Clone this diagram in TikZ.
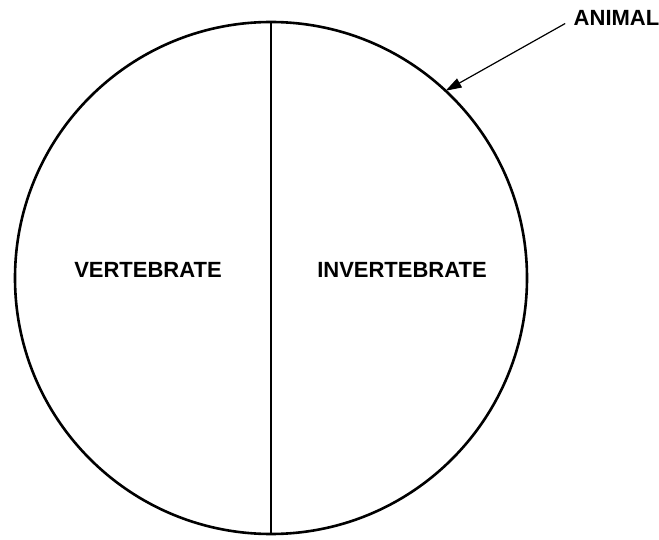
\documentclass[tikz,border=0pt]{standalone}
\usepackage{fontspec}
\setmainfont{Liberation Sans}
\usetikzlibrary{arrows.meta,positioning}

\begin{document}
\begin{tikzpicture}[
    x=1pt, y=-1pt,
    setcircle/.style={circle, draw, line width=2.6pt, inner sep=0pt, outer sep=0pt, minimum size=512pt},
    divider/.style={line width=2.8pt},
    setlabel/.style={font=\fontsize{22}{26}\selectfont\bfseries},
    pointer/.style={line width=1.2pt, -{Triangle[length=16pt,width=10pt]}}
]
\useasboundingbox (0,0) rectangle (659,540);

% Set of animals
\node[setcircle] (animal) at (271,278) {};
\draw[divider] (animal.north) -- (animal.south);

% Halves
\node[setlabel] (vertebrate) at (148,270) {VERTEBRATE};
\node[setlabel] (invertebrate) at (402,270) {INVERTEBRATE};

% Outer label
\node[setlabel] (animallabel) at (616.5,17.5) {ANIMAL};
\draw[pointer] ([xshift=-5pt,yshift=-6pt]animallabel.west) -- (animal.47);

\end{tikzpicture}
\end{document}
